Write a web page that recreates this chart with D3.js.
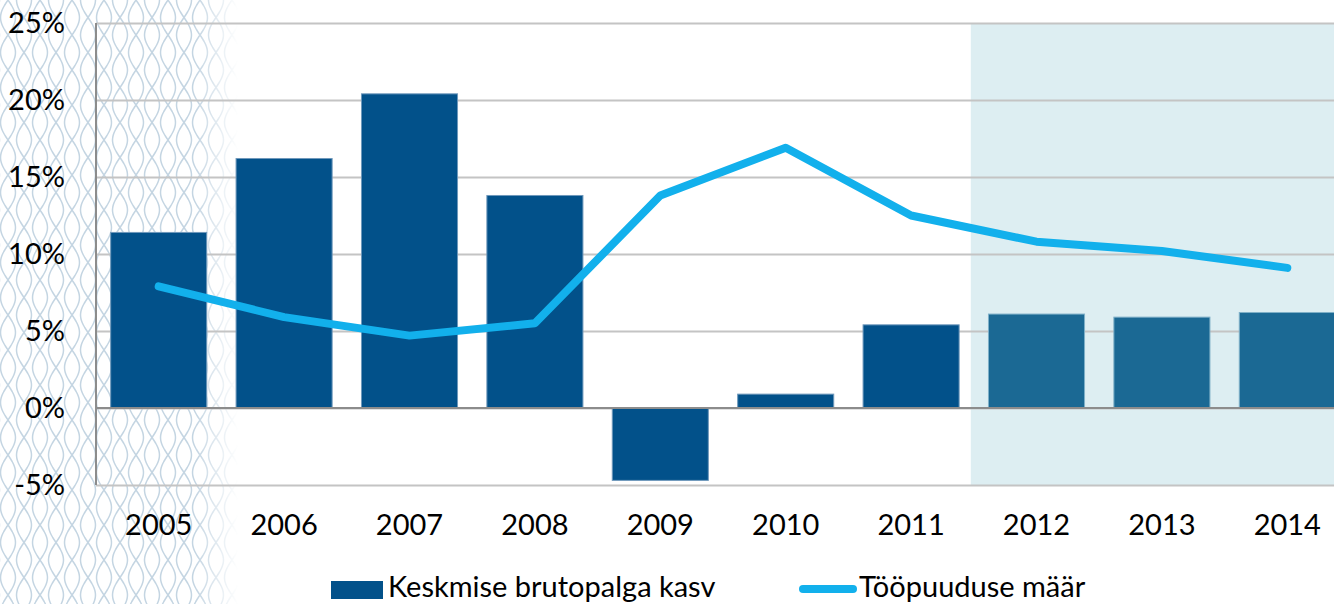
<!DOCTYPE html>
<html>
<head>
<meta charset="utf-8">
<script src="https://cdn.jsdelivr.net/npm/d3@7"></script>
<style>
  body { margin: 0; background: #fff; }
  text { font-family: Lato, "Noto Sans", sans-serif; fill: #000; }
</style>
</head>
<body>
<script>
// chart data
const years = ['2005', '2006', '2007', '2008', '2009', '2010', '2011', '2012', '2013', '2014']
const wageGrowth = [11.4, 16.2, 20.4, 13.8, -4.7, 0.9, 5.4, 6.1, 5.9, 6.2]
const unemployment = [7.9, 5.9, 4.7, 5.5, 13.8, 16.9, 12.5, 10.8, 10.2, 9.1]
const forecastYears = ['2012', '2013', '2014']
const yTicks = [-5, 0, 5, 10, 15, 20, 25]
const legendLabels = ['Keskmise brutopalga kasv', 'Tööpuuduse määr']

const W = 1334, H = 604
const margin = {top: 23, right: -16, bottom: 119, left: 96}
const fontSize = '29px'

const svg = d3.select('body').append('svg')
    .attr('width', W)
    .attr('height', H)

// decorative wave pattern on the left
const defs = svg.append('defs')
const pw = 32, ph = 70
const pat = defs.append('pattern')
    .attr('id', 'waves')
    .attr('patternUnits', 'userSpaceOnUse')
    .attr('width', pw)
    .attr('height', ph)
const wave = (x0, amp, phase) => {
  const pts = d3.range(0, ph + 1, 2).map(y => [x0 + amp * Math.sin(2 * Math.PI * y / ph + phase), y])
  return d3.line().curve(d3.curveBasis)(pts)
}
;[[8, 0], [8, Math.PI], [24, Math.PI / 2], [24, -Math.PI / 2]].forEach(([x0, p]) => {
  // copies left and right so strands meet at the tile edges
  ;[-pw, 0, pw].forEach(off => {
    pat.append('path')
      .attr('d', wave(x0 + off, 7.5, p))
      .attr('fill', 'none')
      .attr('stroke', '#c4d5e2')
      .attr('stroke-width', 1.5)
  })
})
const grad = defs.append('linearGradient').attr('id', 'fade')
grad.append('stop').attr('offset', '0.82').attr('stop-color', '#fff')
grad.append('stop').attr('offset', '1').attr('stop-color', '#fff').attr('stop-opacity', 0)
defs.append('mask').attr('id', 'fadeMask')
  .append('rect')
    .attr('width', 238).attr('height', H)
    .attr('fill', 'url(#fade)')
svg.append('rect')
    .attr('width', 238)
    .attr('height', H)
    .attr('fill', 'url(#waves)')
    .attr('mask', 'url(#fadeMask)')

// scales
const xScale = d3.scaleBand()
    .domain(years)
    .range([margin.left, W - margin.right])
    .paddingInner(0.234)
    .paddingOuter(0.117)

const yScale = d3.scaleLinear()
    .domain([-5, 25])
    .range([H - margin.bottom, margin.top])

const gap = xScale.step() * xScale.paddingInner() / 2

// forecast background
svg.append('rect')
    .attr('x', xScale(forecastYears[0]) - gap - 3)
    .attr('y', yScale(25))
    .attr('width', W - margin.right - xScale(forecastYears[0]) + gap + 3)
    .attr('height', yScale(-5) - yScale(25))
    .attr('fill', '#ddeef2')

// gridlines
svg.append('g')
    .attr('transform', 'translate(' + margin.left + ',0)')
    .call(d3.axisLeft(yScale).tickValues(yTicks).tickSize(-(W - margin.right - margin.left)).tickFormat(''))
    .call(g => g.select('.domain').remove())
    .call(g => g.selectAll('line').attr('stroke', '#c4c4c4').attr('stroke-width', 2))

// y labels
svg.append('g')
    .attr('transform', 'translate(' + margin.left + ',0)')
    .call(d3.axisLeft(yScale).tickValues(yTicks).tickSize(0).tickPadding(31).tickFormat(d => d + '%'))
    .call(g => g.select('.domain').remove())
    .call(g => g.selectAll('text').attr('font-size', fontSize).attr('font-family', 'Lato, sans-serif').attr('fill', '#000'))

// bars
svg.selectAll('.bar').data(years)
    .enter()
    .append('rect')
      .attr('class', 'bar')
      .attr('x', d => xScale(d))
      .attr('width', xScale.bandwidth())
      .attr('y', (d, i) => yScale(Math.max(0, wageGrowth[i])))
      .attr('height', (d, i) => Math.abs(yScale(wageGrowth[i]) - yScale(0)))
      .attr('fill', d => forecastYears.includes(d) ? '#1b6994' : '#02518a')
      .attr('stroke', d => forecastYears.includes(d) ? '#7fb0c8' : '#6f98bb')
      .attr('stroke-width', 1)

// axis lines: left and zero
svg.append('line')
    .attr('x1', margin.left).attr('x2', margin.left)
    .attr('y1', yScale(25)).attr('y2', yScale(-5))
    .attr('stroke', '#8c8c8c').attr('stroke-width', 2)
svg.append('line')
    .attr('x1', margin.left).attr('x2', W - margin.right)
    .attr('y1', yScale(0)).attr('y2', yScale(0))
    .attr('stroke', '#8c8c8c').attr('stroke-width', 2)

// x labels
svg.append('g')
    .attr('transform', 'translate(0,' + yScale(-5) + ')')
    .call(d3.axisBottom(xScale).tickSize(0).tickPadding(29))
    .call(g => g.select('.domain').remove())
    .call(g => g.selectAll('text').attr('font-size', fontSize).attr('font-family', 'Lato, sans-serif').attr('fill', '#000'))

// unemployment line
const line = d3.line()
    .x((d, i) => xScale(years[i]) + xScale.bandwidth() / 2)
    .y(d => yScale(d))
svg.append('path')
    .datum(unemployment)
    .attr('d', line)
    .attr('fill', 'none')
    .attr('stroke', '#12b0ec')
    .attr('stroke-width', 8)
    .attr('stroke-linecap', 'round')
    .attr('stroke-linejoin', 'round')

// legend
const legend = svg.append('g')
legend.append('rect')
    .attr('x', 331).attr('y', 581)
    .attr('width', 52).attr('height', 18)
    .attr('fill', '#02518a')
legend.append('text')
    .attr('x', 388).attr('y', 597)
    .attr('font-size', fontSize)
    .text(legendLabels[0])
legend.append('line')
    .attr('x1', 803).attr('x2', 853)
    .attr('y1', 589).attr('y2', 589)
    .attr('stroke', '#12b0ec')
    .attr('stroke-width', 8)
    .attr('stroke-linecap', 'round')
legend.append('text')
    .attr('x', 859).attr('y', 597)
    .attr('font-size', fontSize)
    .text(legendLabels[1])
</script>
</body>
</html>
